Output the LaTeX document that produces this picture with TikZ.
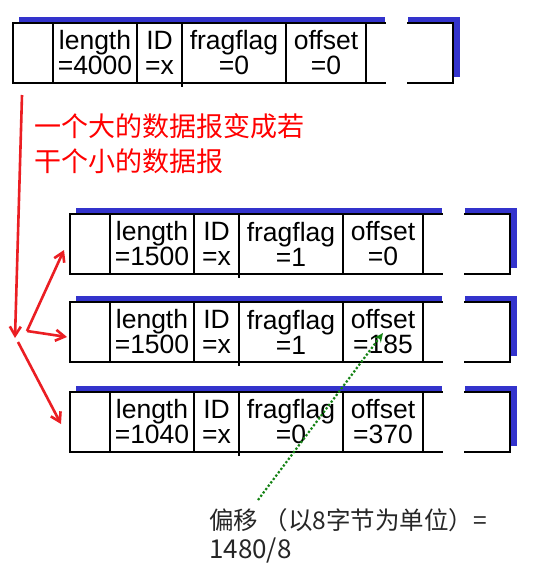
\documentclass[tikz,border=0pt]{standalone}
\usepackage{fontspec}
\setmainfont{Liberation Sans}
\newfontfamily\cjk{Noto Sans CJK SC}
\usetikzlibrary{arrows.meta}
\definecolor{shadowblue}{RGB}{51,51,204}
\definecolor{arrowred}{RGB}{235,30,35}
\definecolor{dotgreen}{RGB}{20,130,20}
\tikzset{
  boxline/.style={line width=2.2pt, line cap=rect},
  cell/.style={font=\fontsize{26.5}{25}\selectfont, align=center, inner sep=0pt},
  redarrow/.style={draw=arrowred, line width=2.6pt, -{Straight Barb[length=9pt,width=11pt,line width=2.6pt]}},
  greenarrow/.style={draw=dotgreen, line width=2.2pt, dotted, -{Stealth[length=9pt,width=8pt]}},
}
\newcommand\packet[7]{%
  \begin{scope}[shift={(#2,#3)}]
    \fill[shadowblue] (6,-6) rectangle (372,54);
    \fill[shadowblue] (395,-6) rectangle (447,54);
    \fill[white] (0,0) rectangle (372,60);
    \fill[white] (395,0) rectangle (440,60);
    \node[cell] (#1-len) at (82,30) {#4};
    \node[cell] (#1-id) at (146.5,30) {#5};
    \node[cell] (#1-flag) at (221,30) {#6};
    \node[cell] (#1-off) at (313,30) {#7};
    \draw[boxline] (372,0) -- (0,0) -- (0,60) -- (372,60);
    \draw[boxline] (395,0) -- (440,0) -- (440,60) -- (395,60);
    \draw[boxline] (40,0) -- (40,60) (124,0) -- (124,60) (169,0) -- (169,63)
                   (273,0) -- (273,60) (353,0) -- (353,60);
    \coordinate (#1-w) at (0,30);
  \end{scope}}
\begin{document}
\begin{tikzpicture}[x=1pt,y=-1pt]
  \useasboundingbox (0,0) rectangle (542,563);
  \fill[white] (0,0) rectangle (542,563);
  \packet{p1}{13}{23}{length\\=4000}{ID\\=x}{fragflag\\=0}{offset\\=0}
  \packet{p2}{70}{214}{length\\=1500}{ID\\=x}{fragflag\\=1}{offset\\=0}
  \packet{p3}{70}{302}{length\\=1500}{ID\\=x}{fragflag\\=1}{offset\\=185}
  \packet{p4}{70}{392}{length\\=1040}{ID\\=x}{fragflag\\=0}{offset\\=370}
  \node[anchor=west, align=left, text=red, inner sep=0pt,
        font=\cjk\fontsize{27}{35}\selectfont] (note) at (34,144)
        {一个大的数据报变成若\\干个小的数据报};
  \node[anchor=west, align=left, text=black!85, inner sep=0pt,
        font=\cjk\fontsize{24.5}{29}\selectfont] (unit) at (209,536)
        {偏移 （以8字节为单位）=\\{\fontsize{26}{29}\selectfont 1480/8}};
  \coordinate (top) at (22,95);
  \coordinate (hub) at (15,338);
  \coordinate (o1) at (27,331);
  \coordinate (o2) at (18,342);
  \coordinate (t2) at (64,250);
  \coordinate (t3) at (67,337);
  \coordinate (t4) at (61,424);
  \coordinate (gs) at (258,500);
  \coordinate (gt) at (383,333);
  \draw[redarrow] (top) -- (hub);
  \draw[redarrow] (o1) -- (t2);
  \draw[redarrow] (o1) -- (t3);
  \draw[redarrow] (o2) -- (t4);
  \draw[greenarrow] (gs) -- (gt);
\end{tikzpicture}
\end{document}
